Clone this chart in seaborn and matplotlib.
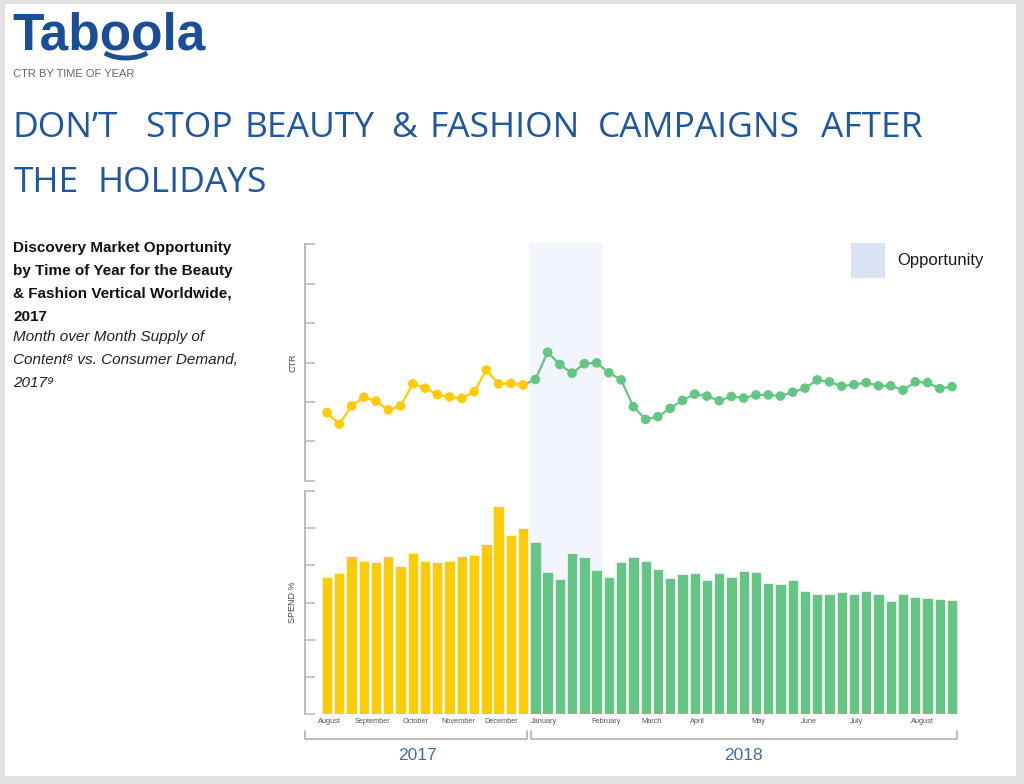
import numpy as np
import pandas as pd
import matplotlib
matplotlib.use("Agg")
import matplotlib.pyplot as plt
import matplotlib.transforms as mtransforms
from matplotlib.patches import Rectangle, Arc
from matplotlib.lines import Line2D
import seaborn as sns

# ---------------- data ----------------
ctr_2017 = [1.73, 1.44, 1.90, 2.12, 2.02, 1.80, 1.90, 2.46, 2.35, 2.19, 2.13, 2.09,
            2.26, 2.81, 2.46, 2.47, 2.43]
ctr_2018 = [2.57, 3.26, 2.95, 2.73, 2.97, 2.99, 2.74, 2.56, 1.88, 1.56, 1.63, 1.84,
            2.04, 2.20, 2.15, 2.03, 2.14, 2.10, 2.18, 2.18, 2.15, 2.25, 2.35, 2.56,
            2.51, 2.40, 2.44, 2.49, 2.41, 2.41, 2.30, 2.51, 2.49, 2.34, 2.39]
spend_2017 = [3.69, 3.79, 4.26, 4.13, 4.10, 4.26, 3.99, 4.34, 4.13, 4.10, 4.13, 4.26,
              4.28, 4.58, 5.59, 4.81, 5.01]
spend_2018 = [4.62, 3.82, 3.64, 4.34, 4.23, 3.87, 3.69, 4.08, 4.23, 4.13, 3.90, 3.66,
              3.76, 3.79, 3.61, 3.79, 3.69, 3.84, 3.82, 3.53, 3.50, 3.61, 3.30, 3.24,
              3.24, 3.27, 3.24, 3.32, 3.22, 3.04, 3.24, 3.16, 3.12, 3.09, 3.06]
month_labels = ["August", "September", "October", "November", "December", "January",
                "February", "March", "April", "May", "June", "July", "August"]
month_pos = [0.2, 3.7, 7.2, 10.7, 14.2, 17.7, 22.8, 26.5, 30.2, 35.2, 39.3, 43.2, 48.6]
years = ["2017", "2018"]
opportunity_weeks = (16.5, 22.5)
title_line1 = ["DON\u2019T", "STOP", "BEAUTY", "&", "FASHION", "CAMPAIGNS", "AFTER"]
title_line2 = ["THE", "HOLIDAYS"]

YELLOW = "#FFCB05"
GREEN = "#64C585"
BLUE = "#1F56A0"
SHADE = "#F2F6FC"

n17 = len(spend_2017)
weeks = np.arange(n17 + len(spend_2018))
df = pd.DataFrame({
    "week": weeks,
    "ctr": ctr_2017 + ctr_2018,
    "spend": spend_2017 + spend_2018,
    "year": [years[0]] * n17 + [years[1]] * len(spend_2018),
})

sns.set_theme(style="white")
plt.rcParams["font.family"] = ["Liberation Sans", "DejaVu Sans"]

W, H = 1024, 784
fig = plt.figure(figsize=(W / 100, H / 100), dpi=100)
fig.patch.set_facecolor("#E2E2E2")
fig.patches.append(Rectangle((5 / W, 8 / H), (1016 - 5) / W, (780 - 8) / H,
                             transform=fig.transFigure, facecolor="white",
                             edgecolor="none", zorder=-5))

def fx(px):
    return px / W

def fy(py):
    return 1 - py / H

ax_l, ax_r = 305, 990
ax_top = fig.add_axes([fx(ax_l), fy(481), fx(ax_r - ax_l), (481 - 244) / H])
ax_bot = fig.add_axes([fx(ax_l), fy(714), fx(ax_r - ax_l), (714 - 491) / H])
xlim = (-1.8, 54.1)

for ax in (ax_top, ax_bot):
    ax.set_facecolor("none")
    ax.set_xlim(*xlim)
    ax.set_ylim(0, 6)
    ax.set_yticks(range(7))
    ax.set_yticklabels([])
    for s in ("top", "right", "bottom"):
        ax.spines[s].set_visible(False)
    ax.spines["left"].set_color("#B5B5B5")
    ax.spines["left"].set_linewidth(1.3)
    ax.tick_params(axis="y", direction="in", length=7, width=1.1, color="#B5B5B5", left=True)
    ax.set_xlabel("")

# opportunity shading spanning both panels
tr = mtransforms.blended_transform_factory(ax_top.transData, fig.transFigure)
fig.patches.append(Rectangle((opportunity_weeks[0], fy(714)),
                             opportunity_weeks[1] - opportunity_weeks[0],
                             (714 - 243) / H, transform=tr, facecolor=SHADE,
                             edgecolor="none", zorder=-1))

# ---------------- CTR line ----------------
d17 = df[df.year == years[0]]
d18 = df[df.week >= n17 - 1]
sns.lineplot(data=d18, x="week", y="ctr", color=GREEN, lw=1.6, ax=ax_top)
sns.lineplot(data=d17, x="week", y="ctr", color=YELLOW, lw=1.6, ax=ax_top)
sns.scatterplot(data=df, x="week", y="ctr", hue="year",
                palette={years[0]: YELLOW, years[1]: GREEN}, s=48,
                edgecolor="none", legend=False, ax=ax_top, zorder=3)
ax_top.set_xticks([])
ax_top.set_xlabel("")
ax_top.set_ylabel("CTR", fontsize=6.5, color="#444444", labelpad=2)

# ---------------- spend bars ----------------
sns.barplot(data=df, x="week", y="spend", hue="year",
            palette={years[0]: YELLOW, years[1]: GREEN}, native_scale=True,
            dodge=False, width=0.84, saturation=1, edgecolor="#EAF6EE",
            linewidth=0.6, legend=False, ax=ax_bot)
ax_bot.set_xlim(*xlim)
ax_bot.set_ylim(0, 6)
ax_bot.set_xticks(month_pos)
ax_bot.set_xticklabels(month_labels, fontsize=5.3, color="#555555")
ax_bot.tick_params(axis="x", length=0, pad=3)
ax_bot.set_xlabel("")
ax_bot.set_ylabel("SPEND %", fontsize=6.5, color="#444444", labelpad=2)

# ---------------- year brackets ----------------
trb = mtransforms.blended_transform_factory(ax_bot.transData, fig.transFigure)
yb, yt = fy(739), fy(731)
for (x0, x1), yr, xc in [((-1.8, 16.3), years[0], 7.35), ((16.65, 51.4), years[1], 34.0)]:
    fig.lines.append(Line2D([x0, x0, x1, x1], [yt, yb, yb, yt], transform=trb,
                            color="#B0B0B0", lw=1.2))
    fig.text(xc, fy(755), yr, transform=trb, ha="center", va="center",
             fontsize=12.5, color="#3D6CA8")

# ---------------- legend ----------------
fig.patches.append(Rectangle((fx(851), fy(278)), fx(34), 35 / H, transform=fig.transFigure,
                             facecolor="#DAE3F3", edgecolor="none"))
fig.text(fx(897), fy(261), "Opportunity", fontsize=12, color="#1A1A1A",
         ha="left", va="center", family=["Liberation Sans", "DejaVu Sans"])

# ---------------- header texts ----------------
fig.text(fx(12), fy(50), "Taboola", fontsize=37, fontweight="bold", color="#1A4E96",
         ha="left", va="baseline", family=["Liberation Sans", "DejaVu Sans"])
fig.patches.append(Arc((fx(126), fy(47)), fx(50), 22 / H, theta1=200, theta2=340,
                       transform=fig.transFigure, color="#1A4E96", lw=3.5))
fig.text(fx(13), fy(74), "CTR BY TIME OF YEAR", fontsize=8, color="#666666",
         ha="left", va="center")

title_kw = dict(fontsize=25.5, color=BLUE, ha="center", va="baseline",
                family=["Open Sans", "DejaVu Sans"])
line1_centers = [65, 189, 309, 404, 505, 699, 871.5]
line2_centers = [46.5, 182]
for word, xc in zip(title_line1, line1_centers):
    fig.text(fx(xc), fy(137), word, **title_kw)
for word, xc in zip(title_line2, line2_centers):
    fig.text(fx(xc), fy(192), word, **title_kw)

bold_lines = ["Discovery Market Opportunity", "by Time of Year for the Beauty",
              "& Fashion Vertical Worldwide,", "2017"]
for i, t in enumerate(bold_lines):
    fig.text(fx(13), fy(248 + 23 * i), t, fontsize=11, fontweight="bold",
             color="#111111", ha="left", va="center")
ital_lines = ["Month over Month Supply of", "Content\u2078 vs. Consumer Demand,", "2017\u2079"]
for i, t in enumerate(ital_lines):
    fig.text(fx(13), fy(337 + 23 * i), t, fontsize=11, fontstyle="italic",
             color="#222222", ha="left", va="center")

fig.savefig("out.png", dpi=100)
